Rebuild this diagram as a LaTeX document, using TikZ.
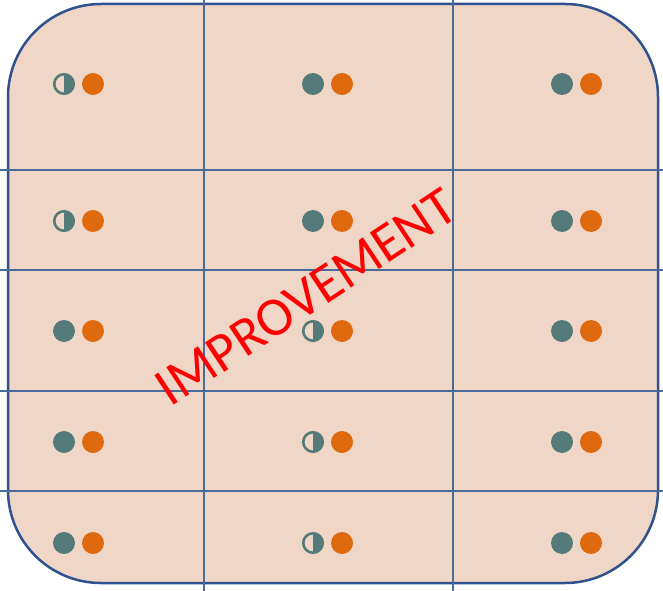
\documentclass[tikz,border=0pt]{standalone}
\usepackage{fontspec}
\newfontfamily\markfont{Carlito}
\usetikzlibrary{positioning}
\definecolor{peach}{HTML}{F0D6C6}
\definecolor{frameblue}{HTML}{2F528F}
\definecolor{gridblue}{HTML}{4A6A9A}
\definecolor{tealgrey}{HTML}{547B7A}
\definecolor{burnt}{HTML}{DE690F}

\begin{document}
\begin{tikzpicture}[x=1bp,y=-1bp,node distance=29bp]
	\tikzstyle{full} = [circle, minimum size=22bp, fill=tealgrey, inner sep=0pt];
	\tikzstyle{half} = [circle, minimum size=19.5bp, draw=tealgrey, line width=2.6bp, inner sep=0pt,
		path picture={\fill[tealgrey] (path picture bounding box.north) rectangle (path picture bounding box.south east);}];
	\tikzstyle{hot} = [circle, minimum size=22bp, fill=burnt, inner sep=0pt];
	\useasboundingbox (0,0) rectangle (663,591);
	
	\draw[fill=peach, draw=frameblue, line width=2.5bp, rounded corners=93bp] (8,4) rectangle (658,583);
	
	% grid
	\draw[gridblue, line width=1.8bp] (204,0) -- (204,591);
	\draw[gridblue, line width=1.8bp] (453,0) -- (453,591);
	\draw[gridblue, line width=1.8bp] (0,170) -- (663,170);
	\draw[gridblue, line width=1.8bp] (0,270) -- (663,270);
	\draw[gridblue, line width=1.8bp] (0,391) -- (663,391);
	\draw[gridblue, line width=1.8bp] (0,491) -- (663,491);
	
	% left column
	\node[half] (a1) at (64,84) {};
	\node[hot] (a1o) [right of=a1] {};
	\node[half] (a2) at (64,221) {};
	\node[hot] (a2o) [right of=a2] {};
	\node[full] (a3) at (64,331) {};
	\node[hot] (a3o) [right of=a3] {};
	\node[full] (a4) at (64,442) {};
	\node[hot] (a4o) [right of=a4] {};
	\node[full] (a5) at (64,543) {};
	\node[hot] (a5o) [right of=a5] {};
	
	% middle column
	\node[full] (b1) at (313,84) {};
	\node[hot] (b1o) [right of=b1] {};
	\node[full] (b2) at (313,221) {};
	\node[hot] (b2o) [right of=b2] {};
	\node[half] (b3) at (313,331) {};
	\node[hot] (b3o) [right of=b3] {};
	\node[half] (b4) at (313,442) {};
	\node[hot] (b4o) [right of=b4] {};
	\node[half] (b5) at (313,543) {};
	\node[hot] (b5o) [right of=b5] {};
	
	% right column
	\node[full] (c1) at (562,84) {};
	\node[hot] (c1o) [right of=c1] {};
	\node[full] (c2) at (562,221) {};
	\node[hot] (c2o) [right of=c2] {};
	\node[full] (c3) at (562,331) {};
	\node[hot] (c3o) [right of=c3] {};
	\node[full] (c4) at (562,442) {};
	\node[hot] (c4o) [right of=c4] {};
	\node[full] (c5) at (562,543) {};
	\node[hot] (c5o) [right of=c5] {};
	
	\node[rotate=33.5, text=red, inner sep=0pt, font=\markfont\fontsize{55}{66}\selectfont] (improve) at (306,297) {IMPROVEMENT};
\end{tikzpicture}
\end{document}
